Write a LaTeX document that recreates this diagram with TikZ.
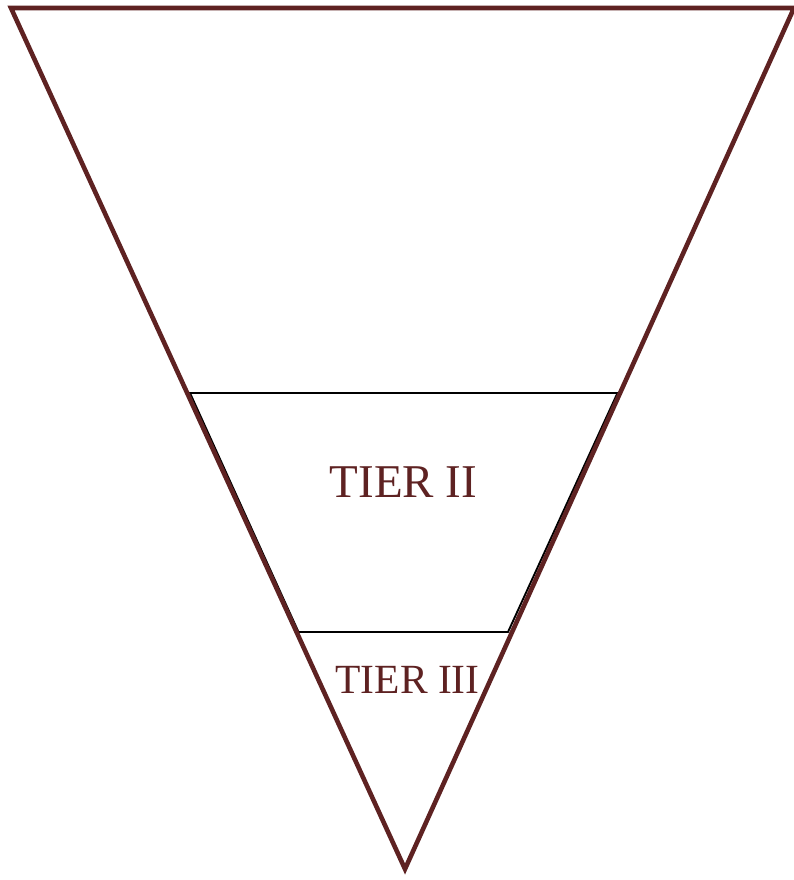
\documentclass[tikz,border=0pt]{standalone}
\usepackage{fontspec}
\setmainfont{Liberation Serif}
\definecolor{maroon}{RGB}{94,34,34}
\tikzset{
  funnel/.style={draw=maroon, line width=4.6pt, line join=miter},
  tierline/.style={draw=black, line width=1.9pt},
  tierlabel/.style={text=maroon, inner sep=0pt, anchor=base}
}
\begin{document}
\begin{tikzpicture}[x=1pt,y=-1pt]
\useasboundingbox (0,0) rectangle (794,880);
% funnel vertices
\coordinate (tl) at (11,8);
\coordinate (tr) at (794,8);
\coordinate (bt) at (405,869);
% tier II trapezoid
\coordinate (a1) at (190,393);
\coordinate (a2) at (617.5,393);
\coordinate (b2) at (508,632);
\coordinate (b1) at (298.5,632);
\draw[tierline] (a1) -- (a2) -- (b2) -- (b1) -- cycle;
\draw[funnel] (tl) -- (tr) -- (bt) -- cycle;
\node[tierlabel, font=\fontsize{47}{56}\selectfont] (t2) at (403.5,497) {TIER II};
\node[tierlabel, font=\fontsize{41.5}{50}\selectfont] (t3) at (407.5,693) {TIER III};
\end{tikzpicture}
\end{document}
